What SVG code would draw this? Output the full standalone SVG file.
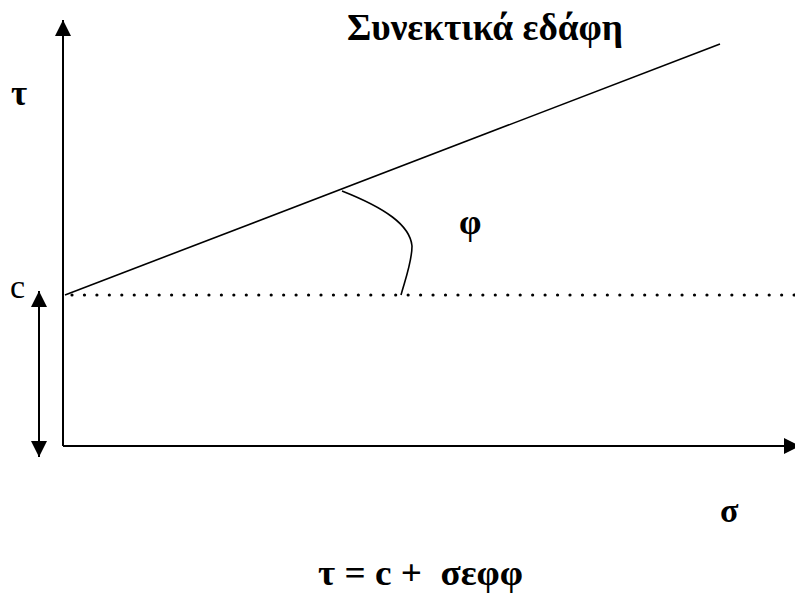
<svg xmlns="http://www.w3.org/2000/svg" width="795" height="595" viewBox="0 0 795 595">
<style>
.lbl{font-family:"Liberation Serif","Times New Roman","DejaVu Serif",serif;font-weight:bold;fill:#000}
.reg{font-family:"Liberation Serif","Times New Roman","DejaVu Serif",serif;fill:#000}
.ln{stroke:#000;fill:none}
</style>
<defs>
<marker id="ah" viewBox="0 0 16 16" refX="16" refY="8" markerWidth="16" markerHeight="16" markerUnits="userSpaceOnUse" orient="auto-start-reverse">
<path d="M0,0 L16,8 L0,16 Z" fill="#000"/>
</marker>
</defs>
<rect width="795" height="595" fill="#fff"/>
<g id="connectors">
<line id="y-axis" class="ln" x1="63" y1="446" x2="63" y2="20" stroke-width="2" marker-end="url(#ah)"/>
<line id="x-axis" class="ln" x1="63" y1="446" x2="800" y2="446" stroke-width="2" marker-end="url(#ah)"/>
<line id="c-arrow" class="ln" x1="39" y1="291" x2="39" y2="457" stroke-width="2" marker-start="url(#ah)" marker-end="url(#ah)"/>
<line id="envelope" class="ln" x1="65" y1="295" x2="720" y2="44" stroke-width="1.6"/>
<line id="c-level" class="ln" x1="72" y1="295" x2="795" y2="295" stroke-width="3.2" stroke-linecap="round" stroke-dasharray="0 12.45"/>
<path id="angle-arc" class="ln" d="M342,191 C385,208 410,225 412,246 C412,262 405,280 401,295" stroke-width="1.6"/>
</g>
<g id="title"><text class="lbl" x="347" y="40" font-size="37" textLength="276" lengthAdjust="spacingAndGlyphs">Συνεκτικά εδάφη</text></g>
<g id="tau-label"><text class="lbl" x="11" y="105" font-size="35">τ</text></g>
<g id="c-label"><text class="reg" x="10" y="298" font-size="34">c</text></g>
<g id="phi-label"><text class="lbl" x="459" y="234" font-size="36">φ</text></g>
<g id="sigma-label"><text class="lbl" x="720" y="522" font-size="34">σ</text></g>
<g id="formula"><text class="lbl" x="318" y="585" font-size="36" xml:space="preserve" textLength="205" lengthAdjust="spacingAndGlyphs">τ = c +  σεφφ</text></g>
</svg>
